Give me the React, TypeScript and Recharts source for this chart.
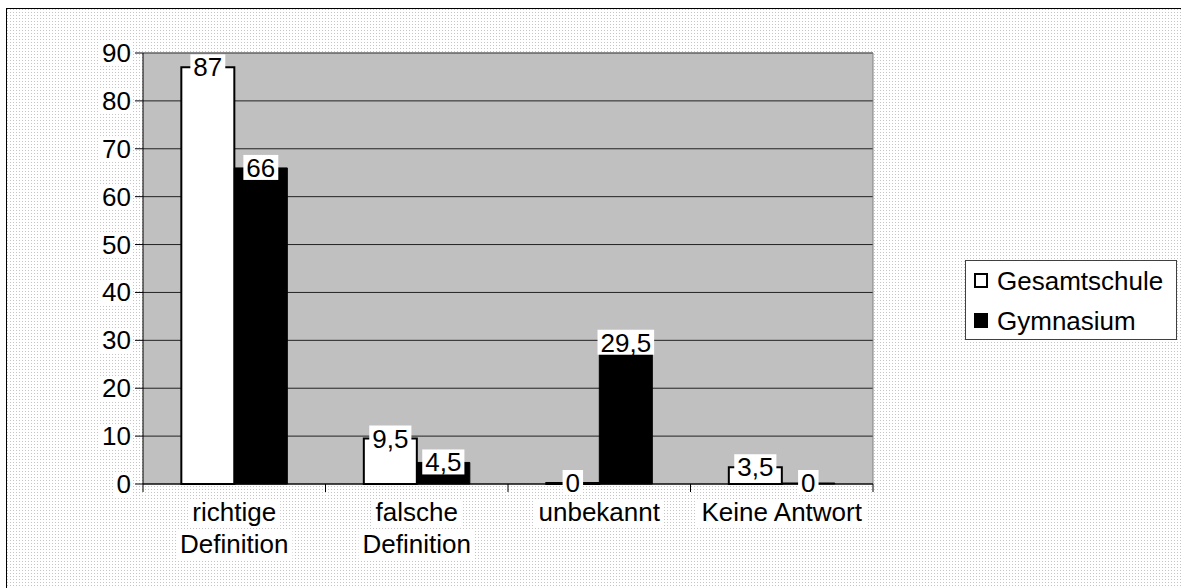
import React from "react";
import { BarChart, Bar, XAxis, YAxis, CartesianGrid, Legend, LabelList, ReferenceLine } from "recharts";

const categories = ["richtige\nDefinition", "falsche\nDefinition", "unbekannt", "Keine Antwort"];
const gesamtschule = [87, 9.5, 0, 3.5];
const gymnasium = [66, 4.5, 29.5, 0];
const yTicks = [0, 10, 20, 30, 40, 50, 60, 70, 80, 90];

const data = categories.map((c, i) => ({ name: c, ges: gesamtschule[i], gym: gymnasium[i] }));

const FONT = '"Liberation Sans", Arial, sans-serif';
const FS = 26;
const DOTS = "url(\"data:image/svg+xml;utf8,<svg xmlns='http://www.w3.org/2000/svg' width='3' height='3'><rect width='1' height='1' fill='%23c4c4c4'/></svg>\")";

let ctx: CanvasRenderingContext2D | null = null;
function textW(s: string, size = FS) {
    if (!ctx) ctx = document.createElement("canvas").getContext("2d");
    if (!ctx) return s.length * size * 0.55;
    ctx.font = `${size}px "Liberation Sans"`;
    return ctx.measureText(s).width;
}
const fmt = (v: number) => String(v).replace(".", ",");

function YTick({ x, y, payload }: any) {
    const s = String(payload.value);
    const w = textW(s);
    return <g><rect x={x - w - 2} y={y - 12} width={w + 4} height={24} fill="#fff" /><text x={x} y={y + 9} textAnchor="end" fontSize={FS} fontFamily={FONT} fill="#000">{s}</text></g>;
}

function XTick({ x, y, payload, width, visibleTicksCount, index }: any) {
    const step = width / visibleTicksCount;
    const axisY = y - 8;
    const lines = String(payload.value).split("\n");
    return (
        <g>
            <line x1={x - step / 2} x2={x - step / 2} y1={axisY} y2={axisY + 8} stroke="#000" />
            {index === visibleTicksCount - 1 && <line x1={x + step / 2} x2={x + step / 2} y1={axisY} y2={axisY + 8} stroke="#000" />}
            {lines.map((l, i) => {
                const w = textW(l);
                const by = y + 29 + i * 32;
                return <g key={i}><rect x={x - w / 2 - 4} y={by - 22} width={w + 8} height={29} fill="#fff" /><text x={x} y={by} textAnchor="middle" fontSize={FS} fontFamily={FONT} fill="#000">{l}</text></g>;
            })}
        </g>
    );
}

function DataLabel({ x, y, width, value }: any) {
    const s = fmt(Number(value));
    const w = textW(s);
    const cx = x + width / 2;
    return <g><rect x={cx - w / 2 - 3} y={y - 13} width={w + 6} height={25} fill="#fff" /><text x={cx} y={y + 9} textAnchor="middle" fontSize={FS} fontFamily={FONT} fill="#000">{s}</text></g>;
}

function LegendBox({ payload }: any) {
    return (
        <div style={{ width: 210, height: 78, border: "1px solid #404040", background: "#fff", fontFamily: FONT, fontSize: 26, color: "#000" }}>
            {(payload || []).map((p: any, i: number) => (
                <div key={i} style={{ position: "relative", height: 40 }}>
                    <div style={{ position: "absolute", left: 8, top: 12, width: 10, height: 11, border: "2px solid #000", background: p.color }} />
                    <span style={{ position: "absolute", left: 31, top: 5, lineHeight: "30px", whiteSpace: "nowrap" }}>{p.value}</span>
                </div>
            ))}
        </div>
    );
}

export default function App() {
    return (
        <div style={{ position: "absolute", left: 0, top: 0, width: 1181, height: 588, overflow: "hidden", background: "#fff" }}>
            <div style={{ position: "absolute", left: 6, top: 8, width: 1180, height: 590, border: "1px solid #000", backgroundImage: DOTS }} />
            <BarChart width={1181} height={588} data={data} margin={{ top: 53, right: 308, bottom: 0, left: 0 }} barCategoryGap="21%" barGap={0} style={{ position: "absolute", left: 0, top: 0 }}>
                <CartesianGrid vertical={false} stroke="#222" fill="#c0c0c0" fillOpacity={1} />
                <CartesianGrid horizontal={false} stroke="#808080" verticalCoordinatesGenerator={({ offset }: any) => [offset.left + offset.width]} />
                <XAxis dataKey="name" height={104} tickSize={8} tickMargin={0} tickLine={false} axisLine={{ stroke: "#000" }} interval={0} tick={(p: any) => <XTick {...p} />} />
                <YAxis type="number" domain={[0, 90]} ticks={yTicks} interval={0} width={143} tickSize={8} tickMargin={4} axisLine={{ stroke: "#000" }} tickLine={{ stroke: "#000" }} tick={(p: any) => <YTick {...p} />} />
                <ReferenceLine y={90} stroke="#808080" />
                <Legend layout="vertical" align="center" verticalAlign="middle" content={(p: any) => <LegendBox {...p} />} wrapperStyle={{ left: 965, top: 260, width: 212 }} />
                <Bar dataKey="ges" name="Gesamtschule" fill="#fff" stroke="#000" strokeWidth={2} minPointSize={1} isAnimationActive={false}>
                    <LabelList dataKey="ges" content={(p: any) => <DataLabel {...p} />} />
                </Bar>
                <Bar dataKey="gym" name="Gymnasium" fill="#000" stroke="#000" minPointSize={1} isAnimationActive={false}>
                    <LabelList dataKey="gym" content={(p: any) => <DataLabel {...p} />} />
                </Bar>
            </BarChart>
        </div>
    );
}
